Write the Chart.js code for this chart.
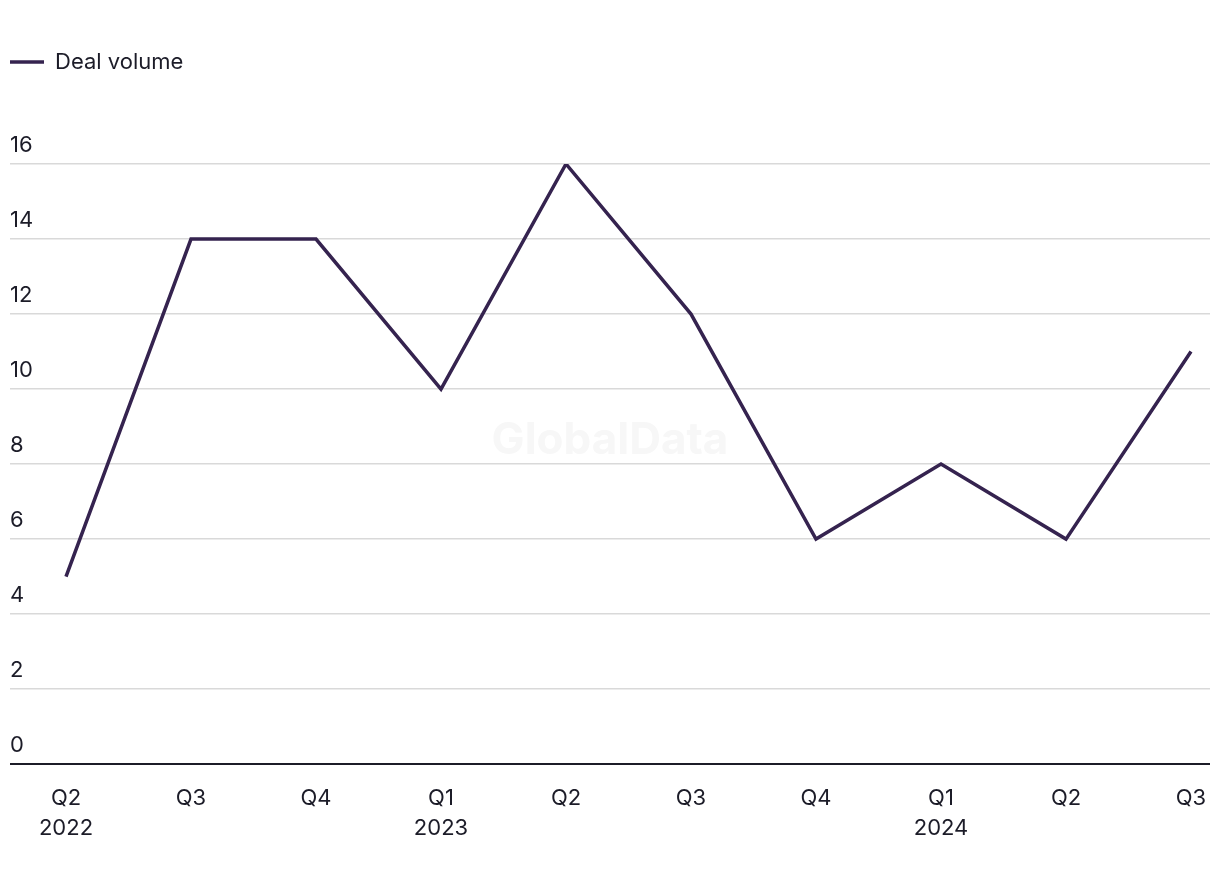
<!DOCTYPE html>
<html>
<head>
<meta charset="utf-8">
<script src="https://cdn.jsdelivr.net/npm/chart.js@4/dist/chart.umd.min.js"></script>
<style>
  html, body { margin: 0; padding: 0; background: #fff; }
  #wrap { width: 1220px; height: 884px; }
</style>
</head>
<body>
<div id="wrap"><canvas id="myChart"></canvas></div>
<script>
const quarters = ["Q2", "Q3", "Q4", "Q1", "Q2", "Q3", "Q4", "Q1", "Q2", "Q3"];
const years = ["2022", "", "", "2023", "", "", "", "2024", "", ""];
const dealVolume = [5, 14, 14, 10, 16, 12, 6, 8, 6, 11];
const yTicks = [0, 2, 4, 6, 8, 10, 12, 14, 16];

const lineColor = "#35234f";
const textColor = "#1c1c28";

Chart.defaults.font.family = "Inter, 'Liberation Sans', Arial, sans-serif";
Chart.defaults.font.size = 22;
Chart.defaults.color = textColor;

// push the plot down below the legend
const legendSpacer = {
    id: "legendSpacer",
    beforeInit(chart) {
        const fit = chart.legend.fit;
        chart.legend.fit = function () {
            fit.bind(chart.legend)();
            this.height += 81;
        };
    }
};

const watermark = {
    id: "watermark",
    beforeDatasetsDraw(chart) {
        const { ctx } = chart;
        ctx.save();
        ctx.font = "bold 44px Inter, 'Liberation Sans', Arial, sans-serif";
        ctx.fillStyle = "#f7f7f7";
        ctx.textAlign = "center";
        ctx.textBaseline = "middle";
        ctx.fillText("GlobalData", 610, 441);
        ctx.restore();
    }
};

new Chart(document.getElementById("myChart").getContext("2d"), {
    type: "line",
    data: {
        datasets: [{
            label: "Deal volume",
            data: dealVolume.map((v, i) => ({ x: i, y: v })),
            borderColor: lineColor,
            backgroundColor: lineColor,
            borderWidth: 3.5,
            pointRadius: 0,
            tension: 0,
            borderJoinStyle: "miter"
        }]
    },
    options: {
        responsive: true,
        maintainAspectRatio: false,
        animation: false,
        layout: { padding: { left: 10, right: 10, top: 51, bottom: 30 } },
        plugins: {
            legend: {
                align: "start",
                labels: {
                    usePointStyle: true,
                    pointStyle: "line",
                    pointStyleWidth: 34,
                    padding: 0,
                    color: textColor
                }
            },
            tooltip: { enabled: false }
        },
        scales: {
            x: {
                type: "linear",
                min: -0.448,
                max: 9.152,
                afterBuildTicks: axis => { axis.ticks = quarters.map((q, i) => ({ value: i })); },
                ticks: {
                    autoSkip: false,
                    maxRotation: 0,
                    padding: 11,
                    font: { lineHeight: 1.36 },
                    callback: (v) => years[v] ? [quarters[v], years[v]] : quarters[v]
                },
                grid: { display: false },
                border: { display: false }
            },
            y: {
                min: 0,
                max: 16,
                afterBuildTicks: axis => { axis.ticks = yTicks.map(v => ({ value: v })); },
                ticks: {
                    mirror: true,
                    padding: 0,
                    labelOffset: -19
                },
                grid: {
                    drawTicks: false,
                    color: ctx => ctx.tick.value === 0 ? "#1c1c28" : "#d9d9d9",
                    lineWidth: ctx => ctx.tick.value === 0 ? 2 : 1.5
                },
                border: { display: false }
            }
        }
    },
    plugins: [legendSpacer, watermark]
});
</script>
</body>
</html>
